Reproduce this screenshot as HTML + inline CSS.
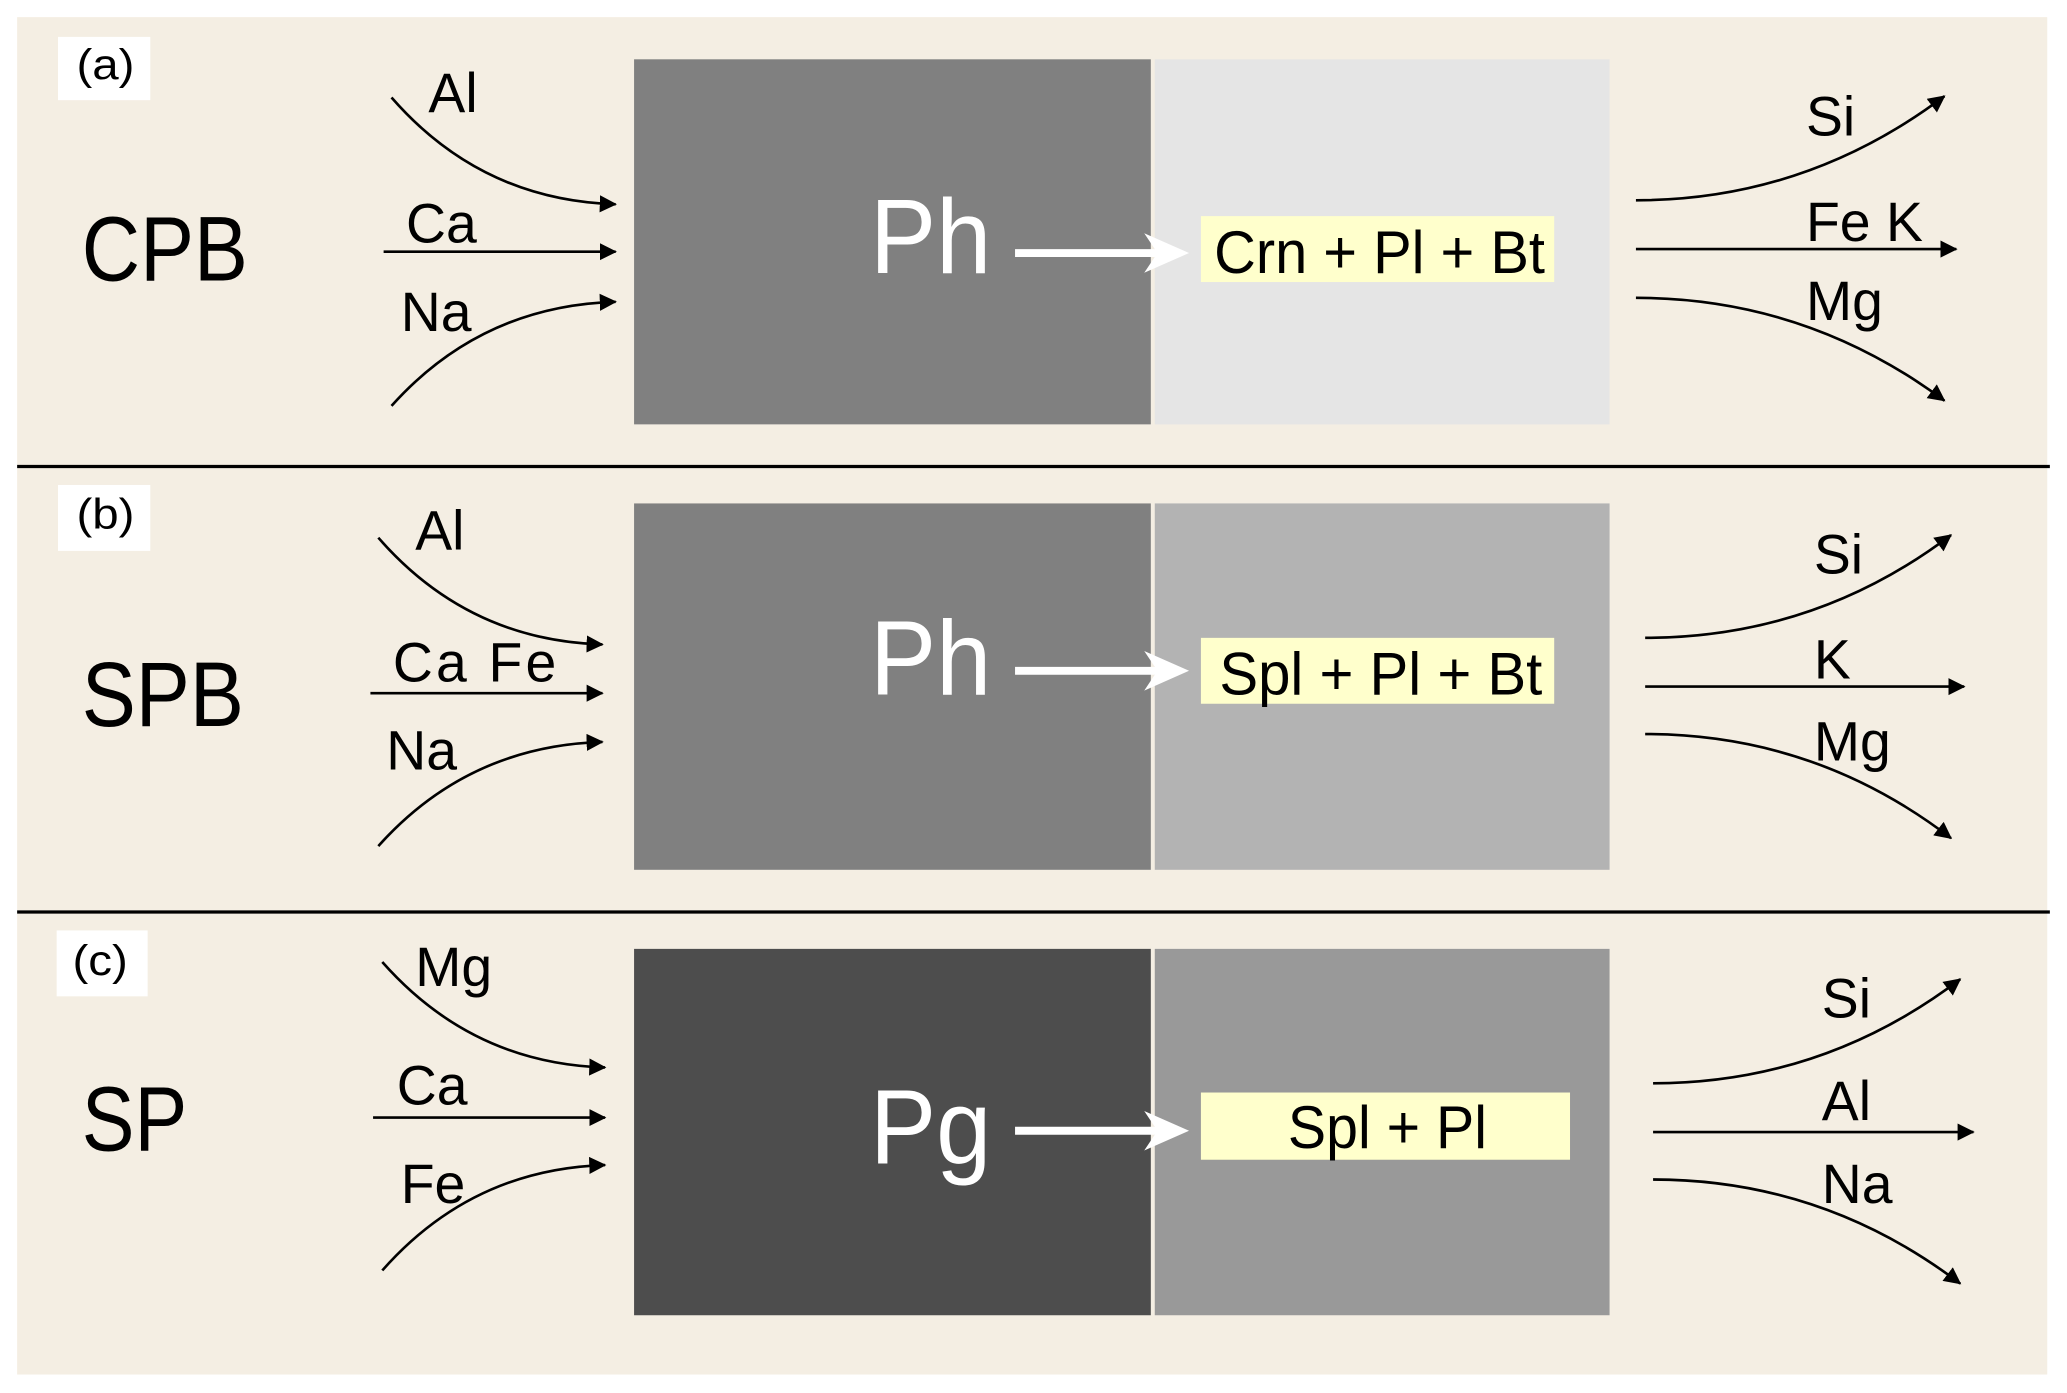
<!DOCTYPE html>
<html><head><meta charset="utf-8"><style>
html,body{margin:0;padding:0;background:#fff;}
svg{display:block;}
text{font-family:"Liberation Sans",sans-serif;}
</style></head><body>
<svg width="2067" height="1393" viewBox="0 0 1568 1057" preserveAspectRatio="none" xmlns="http://www.w3.org/2000/svg">
<defs>
<marker id="ah" markerWidth="14" markerHeight="14" refX="12" refY="6.5" orient="auto" markerUnits="userSpaceOnUse"><path d="M0,0 L13,6.5 L0,13 Z" fill="#000"/></marker>
</defs>
<rect x="0" y="0" width="1568" height="1057" fill="#fff"/>
<rect x="13" y="13" width="1540" height="1030" fill="#f4eee3"/>
<line x1="13" y1="354" x2="1555" y2="354" stroke="#000" stroke-width="2.5"/>
<line x1="13" y1="692" x2="1555" y2="692" stroke="#000" stroke-width="2.5"/>

<rect x="44" y="28" width="70" height="48" fill="#fff"/>
<text x="58" y="60" font-size="32" textLength="44" lengthAdjust="spacingAndGlyphs">(a)</text>
<rect x="44" y="368" width="70" height="50" fill="#fff"/>
<text x="58" y="401" font-size="32" textLength="44" lengthAdjust="spacingAndGlyphs">(b)</text>
<rect x="43" y="706" width="69" height="50" fill="#fff"/>
<text x="55" y="740" font-size="32" textLength="42" lengthAdjust="spacingAndGlyphs">(c)</text>

<text x="62" y="213" font-size="70" textLength="126" lengthAdjust="spacingAndGlyphs">CPB</text>
<text x="62" y="551" font-size="70" textLength="123" lengthAdjust="spacingAndGlyphs">SPB</text>
<text x="62" y="873" font-size="70" textLength="80" lengthAdjust="spacingAndGlyphs">SP</text>

<!-- panel a -->
<rect x="481" y="45" width="392" height="277" fill="#808080"/>
<rect x="876" y="45" width="345" height="277" fill="#e5e5e5"/>
<text x="660" y="207" font-size="80" fill="#fff" textLength="92" lengthAdjust="spacingAndGlyphs">Ph</text>
<line x1="770" y1="192" x2="880" y2="192" stroke="#fff" stroke-width="6"/>
<path d="M868,177 L902,192 L868,207 L878,192 Z" fill="#fff"/>
<rect x="911" y="164" width="268" height="50" fill="#ffffcc"/>
<text x="921" y="207" font-size="46" textLength="251" lengthAdjust="spacingAndGlyphs">Crn + Pl + Bt</text>

<path d="M297,74 Q365,152 467,155" fill="none" stroke="#000" stroke-width="2" marker-end="url(#ah)"/>
<line x1="291" y1="191" x2="467" y2="191" stroke="#000" stroke-width="2" marker-end="url(#ah)"/>
<path d="M297,308 Q365,232 467,229" fill="none" stroke="#000" stroke-width="2" marker-end="url(#ah)"/>
<text x="325" y="85" font-size="42">Al</text>
<text x="308" y="184" font-size="42">Ca</text>
<text x="304" y="251" font-size="42">Na</text>

<path d="M1241,152 Q1370,152 1475,73" fill="none" stroke="#000" stroke-width="2" marker-end="url(#ah)"/>
<line x1="1241" y1="189" x2="1484" y2="189" stroke="#000" stroke-width="2" marker-end="url(#ah)"/>
<path d="M1241,226 Q1370,226 1475,304" fill="none" stroke="#000" stroke-width="2" marker-end="url(#ah)"/>
<text x="1370" y="103" font-size="42">Si</text>
<text x="1370" y="183" font-size="42">Fe K</text>
<text x="1370" y="243" font-size="42">Mg</text>

<!-- panel b -->
<rect x="481" y="382" width="392" height="278" fill="#808080"/>
<rect x="876" y="382" width="345" height="278" fill="#b3b3b3"/>
<text x="660" y="527" font-size="80" fill="#fff" textLength="92" lengthAdjust="spacingAndGlyphs">Ph</text>
<line x1="770" y1="509" x2="880" y2="509" stroke="#fff" stroke-width="6"/>
<path d="M868,494 L902,509 L868,524 L878,509 Z" fill="#fff"/>
<rect x="911" y="484" width="268" height="50" fill="#ffffcc"/>
<text x="925" y="527" font-size="46" textLength="245" lengthAdjust="spacingAndGlyphs">Spl + Pl + Bt</text>

<path d="M287,408 Q355,486 457,489" fill="none" stroke="#000" stroke-width="2" marker-end="url(#ah)"/>
<line x1="281" y1="526" x2="457" y2="526" stroke="#000" stroke-width="2" marker-end="url(#ah)"/>
<path d="M287,642 Q355,566 457,563" fill="none" stroke="#000" stroke-width="2" marker-end="url(#ah)"/>
<text x="315" y="417" font-size="42">Al</text>
<text x="298" y="517" font-size="42" textLength="124" lengthAdjust="spacing">Ca  Fe</text>
<text x="293" y="584" font-size="42">Na</text>

<path d="M1248,484 Q1377,484 1480,406" fill="none" stroke="#000" stroke-width="2" marker-end="url(#ah)"/>
<line x1="1248" y1="521" x2="1490" y2="521" stroke="#000" stroke-width="2" marker-end="url(#ah)"/>
<path d="M1248,557 Q1377,557 1480,636" fill="none" stroke="#000" stroke-width="2" marker-end="url(#ah)"/>
<text x="1376" y="435" font-size="42">Si</text>
<text x="1376" y="515" font-size="42">K</text>
<text x="1376" y="577" font-size="42">Mg</text>

<!-- panel c -->
<rect x="481" y="720" width="392" height="278" fill="#4d4d4d"/>
<rect x="876" y="720" width="345" height="278" fill="#999999"/>
<text x="660" y="883" font-size="80" fill="#fff" textLength="92" lengthAdjust="spacingAndGlyphs">Pg</text>
<line x1="770" y1="858" x2="880" y2="858" stroke="#fff" stroke-width="6"/>
<path d="M868,843 L902,858 L868,873 L878,858 Z" fill="#fff"/>
<rect x="911" y="829" width="280" height="51" fill="#ffffcc"/>
<text x="977" y="871" font-size="46" textLength="151" lengthAdjust="spacingAndGlyphs">Spl + Pl</text>

<path d="M290,730 Q358,807 459,810" fill="none" stroke="#000" stroke-width="2" marker-end="url(#ah)"/>
<line x1="283" y1="848" x2="459" y2="848" stroke="#000" stroke-width="2" marker-end="url(#ah)"/>
<path d="M290,964 Q358,887 459,884" fill="none" stroke="#000" stroke-width="2" marker-end="url(#ah)"/>
<text x="315" y="748" font-size="42">Mg</text>
<text x="301" y="838" font-size="42">Ca</text>
<text x="304" y="913" font-size="42">Fe</text>

<path d="M1254,822 Q1383,822 1487,743" fill="none" stroke="#000" stroke-width="2" marker-end="url(#ah)"/>
<line x1="1254" y1="859" x2="1497" y2="859" stroke="#000" stroke-width="2" marker-end="url(#ah)"/>
<path d="M1254,895 Q1383,895 1487,974" fill="none" stroke="#000" stroke-width="2" marker-end="url(#ah)"/>
<text x="1382" y="772" font-size="42">Si</text>
<text x="1382" y="850" font-size="42">Al</text>
<text x="1382" y="913" font-size="42">Na</text>
</svg>
</body></html>
